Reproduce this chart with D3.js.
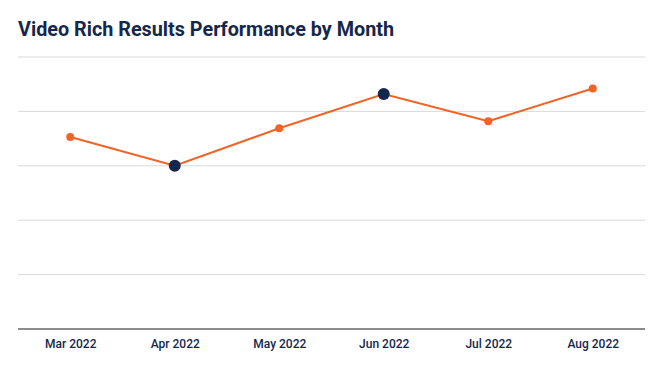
<!DOCTYPE html>
<html>
<head>
<meta charset="utf-8">
<script src="https://cdn.jsdelivr.net/npm/d3@7"></script>
<style>
  html, body { margin: 0; padding: 0; background: #fff; }
  svg { display: block; font-family: Roboto, "Noto Sans", sans-serif; }
</style>
</head>
<body>
<svg id="chart" width="662" height="371"></svg>
<script>
// dados do gráfico
const meses = ["Mar 2022", "Apr 2022", "May 2022", "Jun 2022", "Jul 2022", "Aug 2022"];
const valores = [35.3, 30.0, 36.9, 43.2, 38.2, 44.2];
const destaque = [false, true, false, true, false, false];
const ticksY = [0, 10, 20, 30, 40, 50];

const largura = 662, altura = 371;
const margem = { top: 57, right: 17, bottom: 42, left: 18 };

const svg = d3.select("#chart");

const corLinha = "#f26325";
const corNavy = "#14284b";

// título
svg.append("text")
  .attr("x", 18).attr("y", 36)
  .style("font-size", "19.8px")
  .style("font-weight", 700)
  .style("fill", corNavy)
  .text("Video Rich Results Performance by Month");

const x = d3.scalePoint()
  .domain(meses)
  .range([margem.left, largura - margem.right])
  .padding(0.5);

const y = d3.scaleLinear()
  .domain([0, 50])
  .range([altura - margem.bottom, margem.top]);

// linhas de grade
svg.append("g")
  .selectAll("line")
  .data(ticksY.filter(t => t > 0))
  .join("line")
  .attr("x1", margem.left).attr("x2", largura - margem.right)
  .attr("y1", d => y(d)).attr("y2", d => y(d))
  .attr("stroke", "#d9d9d9")
  .attr("stroke-width", 1);

// eixo x
const eixoX = svg.append("g")
  .attr("transform", `translate(0,${y(0)})`)
  .call(d3.axisBottom(x).tickSize(0).tickPadding(10));
eixoX.select(".domain")
  .attr("d", `M${margem.left},0H${largura - margem.right}`)
  .attr("stroke", "#666")
  .attr("stroke-width", 1.5);
eixoX.selectAll("text")
  .style("font-family", "Roboto, sans-serif")
  .style("font-size", "12px")
  .style("font-weight", 500)
  .style("fill", corNavy);

// linha
const linha = d3.line()
  .x((d, i) => x(meses[i]))
  .y(d => y(d));

svg.append("path")
  .datum(valores)
  .attr("d", linha)
  .attr("fill", "none")
  .attr("stroke", corLinha)
  .attr("stroke-width", 2);

// pontos
svg.append("g")
  .selectAll("circle")
  .data(valores)
  .join("circle")
  .attr("cx", (d, i) => x(meses[i]))
  .attr("cy", d => y(d))
  .attr("r", (d, i) => destaque[i] ? 6 : 4)
  .attr("fill", (d, i) => destaque[i] ? corNavy : corLinha);
</script>
</body>
</html>
